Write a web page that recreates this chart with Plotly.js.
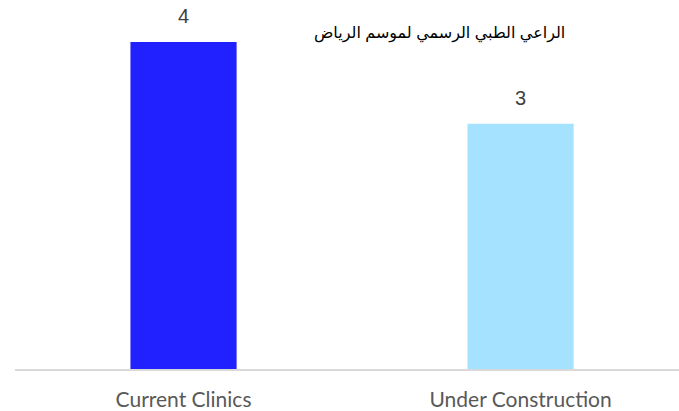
<!DOCTYPE html>
<html>
<head>
<meta charset="utf-8">
<script src="https://cdn.plot.ly/plotly-3.0.1.min.js"></script>
<style>html,body{margin:0;padding:0;background:#fff;}#chart{width:679px;height:411px;}</style>
</head>
<body>
<div id="chart"></div>
<script>
const categories = ["Current Clinics", "Under Construction"];
const values = [4, 3];
const barColors = ["#2121FF", "#A4E2FF"];
const caption = "الراعي الطبي الرسمي لموسم الرياض";

const trace = {
  type: "bar",
  x: categories,
  y: values,
  width: 0.315,
  marker: {color: barColors, line: {width: 0}},
  hoverinfo: "none"
};

const valueLabels = categories.map((c, i) => ({
  x: c, y: values[i], xref: "x", yref: "y",
  text: String(values[i]), showarrow: false,
  yanchor: "bottom", yshift: 13,
  font: {family: "Liberation Sans, Arial, sans-serif", size: 20, color: "#404040"}
}));

const layout = {
  width: 679, height: 411,
  margin: {l: 15, r: 0, t: 42, b: 42},
  paper_bgcolor: "#ffffff", plot_bgcolor: "#ffffff",
  showlegend: false,
  xaxis: {
    type: "category",
    range: [-0.5, 1.47],
    showline: true, linecolor: "#D9D9D9", linewidth: 2,
    showgrid: false, zeroline: false, ticks: "",
    ticklabelstandoff: 11,
    tickfont: {family: "Lato, 'Open Sans', sans-serif", size: 21, color: "#595959"}
  },
  yaxis: {
    range: [0, 4], visible: false, showgrid: false, zeroline: false
  },
  annotations: valueLabels.concat([{
    x: 0.64, y: 1.027, xref: "paper", yref: "paper",
    text: caption, showarrow: false, xanchor: "center", yanchor: "middle",
    font: {family: "Liberation Sans, Arial, DejaVu Sans, sans-serif", size: 16, color: "#000000"}
  }])
};

Plotly.newPlot("chart", [trace], layout, {displayModeBar: false, staticPlot: true});
</script>
</body>
</html>
